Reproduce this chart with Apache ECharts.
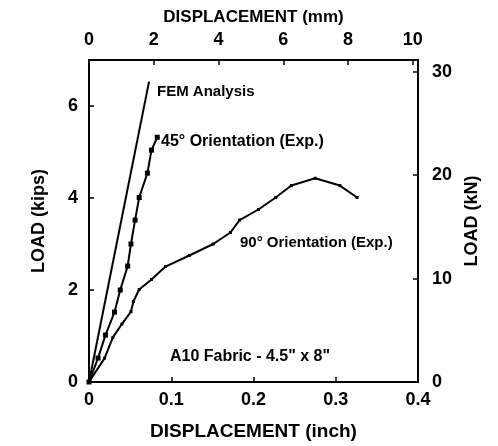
<!DOCTYPE html>
<html>
<head>
<meta charset="utf-8">
<script src="https://cdn.jsdelivr.net/npm/echarts@6/dist/echarts.min.js"></script>
<style>
html,body{margin:0;padding:0;background:#fff;}
#chart{width:498px;height:446px;}
</style>
</head>
<body>
<div id="chart"></div>
<script>
// ---- data (inch, kips) ----
const femX = [0, 0.073];
const femY = [0, 6.53];
const deg45X = [0, 0.011, 0.020, 0.031, 0.038, 0.047, 0.051, 0.056, 0.061, 0.071, 0.076, 0.083];
const deg45Y = [0, 0.52, 1.02, 1.52, 2.00, 2.52, 3.00, 3.52, 4.01, 4.54, 5.04, 5.32];
const deg90X = [0, 0.019, 0.029, 0.040, 0.051, 0.054, 0.061, 0.076, 0.093, 0.122, 0.151, 0.172, 0.183, 0.206, 0.227, 0.246, 0.275, 0.305, 0.326];
const deg90Y = [0, 0.52, 0.97, 1.26, 1.53, 1.75, 2.01, 2.23, 2.51, 2.75, 3.00, 3.25, 3.52, 3.75, 4.01, 4.27, 4.43, 4.27, 4.01];

const seriesNames = ['FEM Analysis', '45° Orientation (Exp.)', '90° Orientation (Exp.)'];
const noteText = 'A10 Fabric - 4.5" x 8"';
const xTitleBottom = 'DISPLACEMENT (inch)';
const xTitleTop = 'DISPLACEMENT (mm)';
const yTitleLeft = 'LOAD (kips)';
const yTitleRight = 'LOAD (kN)';

// axis ranges
const inchMax = 0.4, inchStep = 0.1;
const mmPerInch = 25.4;
const kipsMax = 7, kipsStep = 2;
const kNPerKip = 4.44822;
const mmStep = 2, kNStep = 10;

function zip(xs, ys){ return xs.map((x,i)=>[x, ys[i]]); }

const FONT = '"Liberation Sans", Arial, Helvetica, sans-serif';
const axisLineStyle = {show:true, onZero:false, lineStyle:{color:'#000', width:2}};
const labelBase = {color:'#000', fontFamily:FONT, fontWeight:'bold', fontSize:18};
function ticks(step){
  return {show:true, inside:true, length:5, lineStyle:{color:'#000', width:1.5},
    interval:(i, v)=> Math.abs(v/step - Math.round(v/step)) < 1e-6};
}
function onStep(step){
  return v => (Math.abs(v/step - Math.round(v/step)) < 1e-6 ? String(+v.toFixed(2)) : '');
}

const chart = echarts.init(document.getElementById('chart'), null, {renderer:'canvas'});
chart.setOption({
  backgroundColor:'#fff',
  animation:false,
  grid:{left:89, right:80, top:60, bottom:64, containLabel:false},
  xAxis:[
    {type:'value', position:'bottom', min:0, max:inchMax, interval:inchStep,
     name:xTitleBottom, nameLocation:'middle', nameGap:40,
     nameTextStyle:{color:'#000', fontFamily:FONT, fontWeight:'bold', fontSize:19},
     axisLine:axisLineStyle, axisTick:{show:true, inside:true, length:5, lineStyle:{color:'#000', width:1.5}}, splitLine:{show:false},
     axisLabel:Object.assign({margin:9}, labelBase)},
    {type:'value', position:'top', min:0, max:inchMax*mmPerInch, interval:mmStep,
     name:xTitleTop, nameLocation:'middle', nameGap:33,
     nameTextStyle:{color:'#000', fontFamily:FONT, fontWeight:'bold', fontSize:17},
     axisLine:axisLineStyle, axisTick:ticks(mmStep), splitLine:{show:false},
     axisLabel:Object.assign({margin:11, formatter:onStep(mmStep)}, labelBase)}
  ],
  yAxis:[
    {type:'value', position:'left', min:0, max:kipsMax, interval:kipsStep,
     name:yTitleLeft, nameLocation:'middle', nameGap:41, nameRotate:90,
     nameTextStyle:{color:'#000', fontFamily:FONT, fontWeight:'bold', fontSize:18},
     axisLine:axisLineStyle, axisTick:ticks(kipsStep), splitLine:{show:false},
     axisLabel:Object.assign({margin:11, formatter:onStep(kipsStep)}, labelBase)},
    {type:'value', position:'right', min:0, max:kipsMax*kNPerKip, interval:kNStep,
     name:yTitleRight, nameLocation:'middle', nameGap:39, nameRotate:90,
     nameTextStyle:{color:'#000', fontFamily:FONT, fontWeight:'bold', fontSize:18},
     axisLine:axisLineStyle, axisTick:ticks(kNStep), splitLine:{show:false},
     axisLabel:Object.assign({margin:14, formatter:onStep(kNStep)}, labelBase)}
  ],
  series:[
    {name:seriesNames[0], type:'line', xAxisIndex:0, yAxisIndex:0, data:zip(femX, femY),
     showSymbol:false, lineStyle:{color:'#000', width:2}, silent:true},
    {name:seriesNames[1], type:'line', xAxisIndex:0, yAxisIndex:0, data:zip(deg45X, deg45Y),
     symbol:'rect', symbolSize:5, itemStyle:{color:'#000'}, lineStyle:{color:'#000', width:2}, silent:true},
    {name:seriesNames[2], type:'line', xAxisIndex:0, yAxisIndex:0, data:zip(deg90X, deg90Y),
     symbol:'rect', symbolSize:3, itemStyle:{color:'#000'}, lineStyle:{color:'#000', width:2}, silent:true}
  ],
  graphic:[
    {type:'text', x:157, y:92, style:{text:seriesNames[0], fill:'#000', fontFamily:FONT, fontWeight:'bold', fontSize:15, align:'left', verticalAlign:'middle'}},
    {type:'text', x:161, y:142, style:{text:seriesNames[1], fill:'#000', fontFamily:FONT, fontWeight:'bold', fontSize:16, align:'left', verticalAlign:'middle'}},
    {type:'text', x:240, y:243, style:{text:seriesNames[2], fill:'#000', fontFamily:FONT, fontWeight:'bold', fontSize:15, align:'left', verticalAlign:'middle'}},
    {type:'text', x:250, y:357, style:{text:noteText, fill:'#000', fontFamily:FONT, fontWeight:'bold', fontSize:16, align:'center', verticalAlign:'middle'}}
  ]
});
</script>
</body>
</html>
